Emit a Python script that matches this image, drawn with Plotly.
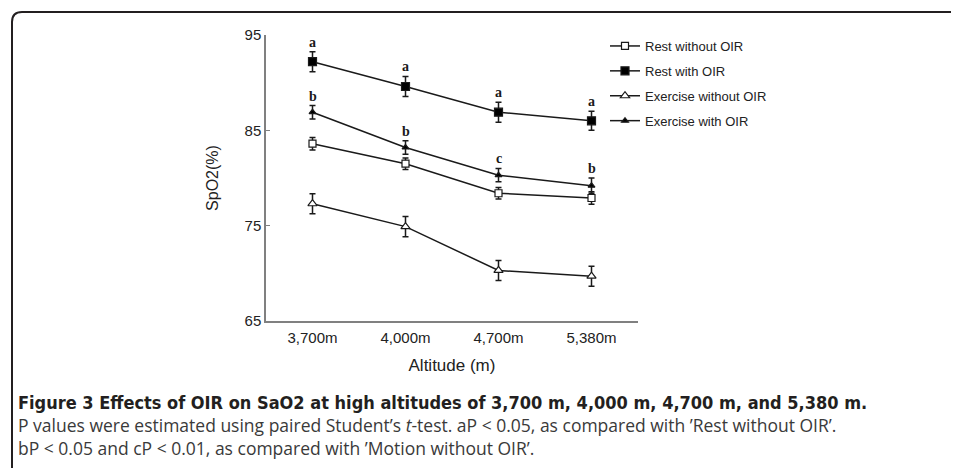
import plotly.graph_objects as go

altitudes = ["3,700m", "4,000m", "4,700m", "5,380m"]

rest_without = [83.6, 81.5, 78.4, 77.9]
rest_without_err = [0.65, 0.6, 0.6, 0.65]
rest_with = [92.2, 89.6, 86.9, 86.0]
rest_with_err = [1.05, 1.05, 1.05, 1.0]
ex_without = [77.3, 74.9, 70.3, 69.7]
ex_without_err = [1.05, 1.05, 1.05, 1.05]
ex_with = [86.9, 83.2, 80.3, 79.2]
ex_with_err = [0.7, 0.7, 0.7, 0.8]

rest_with_letters = ["a", "a", "a", "a"]
ex_with_letters = ["b", "b", "c", "b"]

W, H = 959, 468
OFF = 8  # page body margin
L, R, T, B = 266, 638, 35, 321

def px(x):
    return (x - L) / (R - L)

def py(y):
    return (B - y) / (B - T)

fig = go.Figure()

series = [
    ("Rest without OIR", rest_without, rest_without_err, "square", "white", 7),
    ("Rest with OIR", rest_with, rest_with_err, "square", "black", 8),
    ("Exercise without OIR", ex_without, ex_without_err, "triangle-up", "white", 8),
    ("Exercise with OIR", ex_with, ex_with_err, "triangle-up", "black", 6),
]
for i, (name, vals, errs, sym, fill, size) in enumerate(series):
    fig.add_trace(go.Scatter(
        x=altitudes, y=vals, name=name, mode="lines+markers",
        legendgroup=str(i),
        line=dict(color="#1a1a1a", width=1.5),
        marker=dict(symbol=sym, color=fill, size=size,
                    line=dict(color="#1a1a1a", width=1.2)),
        error_y=dict(type="data", array=errs, visible=True,
                     color="#1a1a1a", thickness=1.5, width=3),
    ))

for vals, errs, letters in [(rest_with, rest_with_err, rest_with_letters),
                            (ex_with, ex_with_err, ex_with_letters)]:
    for x, v, e, t in zip(altitudes, vals, errs, letters):
        fig.add_annotation(x=x, y=v + e, text="<b>%s</b>" % t, showarrow=False,
                           yanchor="bottom", yshift=0,
                           font=dict(family="Liberation Serif", size=14, color="#1a1a1a"))

# frame border with rounded top-left corner
x0, yt = px(12), py(12)
rx, ry = 10 / (R - L), 10 / (B - T)
xr, yb = px(975), py(480)
fig.add_shape(type="path", xref="paper", yref="paper",
              path=f"M {x0},{yb} L {x0},{yt-ry} Q {x0},{yt} {x0+rx},{yt} L {xr},{yt}",
              line=dict(color="#231f20", width=2))

cap_bold = "DejaVu Sans Condensed, Arial Narrow, sans-serif"
cap_font = "Open Sans, Lato, sans-serif"
fig.add_annotation(xref="paper", yref="paper", x=px(16), y=py(402), xanchor="left", yanchor="middle",
                   text="<b>Figure 3 Effects of OIR on SaO2 at high altitudes of 3,700 m, 4,000 m, 4,700 m, and 5,380 m.</b>",
                   showarrow=False, font=dict(family=cap_bold, size=18, color="#231f20"))
fig.add_annotation(xref="paper", yref="paper", x=px(16), y=py(425), xanchor="left", yanchor="middle",
                   text="P values were estimated using paired Student’s <i>t</i>-test. aP &lt; 0.05, as compared with ’Rest without OIR’.",
                   showarrow=False, font=dict(family=cap_font, size=17.5, color="#3a3a3a"))
fig.add_annotation(xref="paper", yref="paper", x=px(16), y=py(448), xanchor="left", yanchor="middle",
                   text="bP &lt; 0.05 and cP &lt; 0.01, as compared with ’Motion without OIR’.",
                   showarrow=False, font=dict(family=cap_font, size=17.5, color="#3a3a3a"))

fig.update_layout(
    width=W, height=H,
    margin=dict(l=L - OFF, r=W - (R - OFF), t=T - OFF, b=H - (B - OFF), pad=0),
    paper_bgcolor="white", plot_bgcolor="white",
    font=dict(family="Liberation Sans, Arial, sans-serif", size=15, color="#222222"),
    xaxis=dict(range=[-0.5, 3.5], showline=True, linecolor="#808080", linewidth=1.5,
               ticks="", showgrid=False, zeroline=False, ticklabelstandoff=2,
               title=dict(text="Altitude (m)", font=dict(size=17), standoff=14),
               tickfont=dict(size=15)),
    yaxis=dict(range=[65, 95], tickvals=[65, 75, 85, 95], showline=True,
               linecolor="#808080", linewidth=1.5, ticks="inside", ticklen=4,
               tickcolor="#808080", showgrid=False, zeroline=False,
               title=dict(text="SpO2(%)", font=dict(size=16), standoff=22),
               tickfont=dict(size=15)),
    legend=dict(x=px(605), y=py(31), xanchor="left", yanchor="top",
                font=dict(size=13, color="#222222"), itemwidth=30,
                tracegroupgap=5, bgcolor="rgba(0,0,0,0)"),
    showlegend=True,
)

fig.write_html("out.html")
